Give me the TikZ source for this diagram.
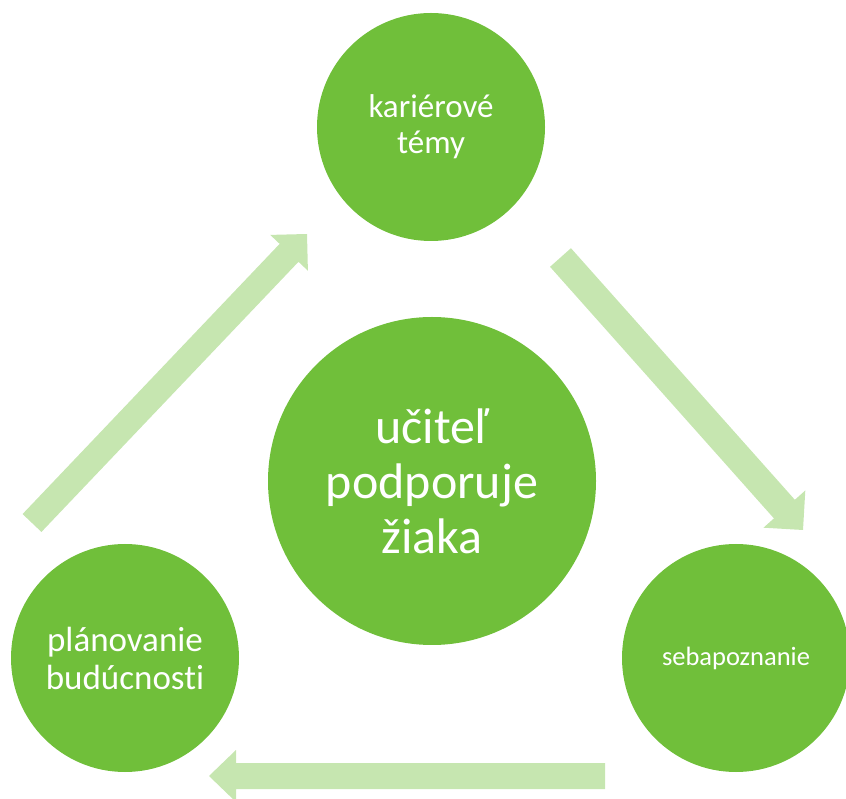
\documentclass[tikz,border=0pt]{standalone}
\usepackage{fontspec}
\setmainfont[Ligatures={NoCommon}]{Carlito}
\usetikzlibrary{calc}
\definecolor{circgreen}{RGB}{112,191,58}
\definecolor{arrgreen}{RGB}{198,230,176}
\tikzset{
  bubble/.style={circle, fill=circgreen, text=white, inner sep=0pt, align=center},
  arrowfill/.style={fill=arrgreen}
}
% #1 tail, #2 tip, #3 half shaft width, #4 half head width, #5 head length, #6 name
\newcommand{\blkarrow}[6]{%
  \coordinate (#6h) at ($(#2)!#5!(#1)$);
  \fill[arrowfill] ($(#1)!#3!90:(#2)$) -- ($(#6h)!#3!90:(#2)$) -- ($(#6h)!#4!90:(#2)$)
    -- (#2) -- ($(#6h)!#4!-90:(#2)$) -- ($(#6h)!#3!-90:(#2)$) -- ($(#1)!#3!-90:(#2)$) -- cycle;
}
\begin{document}
\begin{tikzpicture}[x=1pt,y=1pt]
\useasboundingbox (0,0) rectangle (846,798);
% circles
\node[bubble, minimum size=228pt, font=\fontsize{33}{36}\selectfont] (top) at (431,671) {kariérové\\témy};
\node[bubble, minimum size=328pt, font=\fontsize{50}{55}\selectfont] (mid) at (432,317) {učiteľ\\podporuje\\žiaka};
\node[bubble, minimum size=228pt, font=\fontsize{35}{38}\selectfont] (left) at (125,140) {plánovanie\\budúcnosti};
\node[bubble, minimum size=228pt, font=\fontsize{26.5}{30}\selectfont] (right) at (736,140) {sebapoznanie};
% arrow end points
\coordinate (tlA) at (32,275);
\coordinate (tlB) at (307,564);
\coordinate (trA) at (560.5,540.5);
\coordinate (trB) at (803,268);
\coordinate (btA) at (605,22);
\coordinate (btB) at (209,22);
\blkarrow{tlA}{tlB}{13pt}{26pt}{26pt}{tl}
\blkarrow{trA}{trB}{14pt}{28pt}{28pt}{tr}
\blkarrow{btA}{btB}{13pt}{26pt}{27pt}{bt}
\end{tikzpicture}
\end{document}
